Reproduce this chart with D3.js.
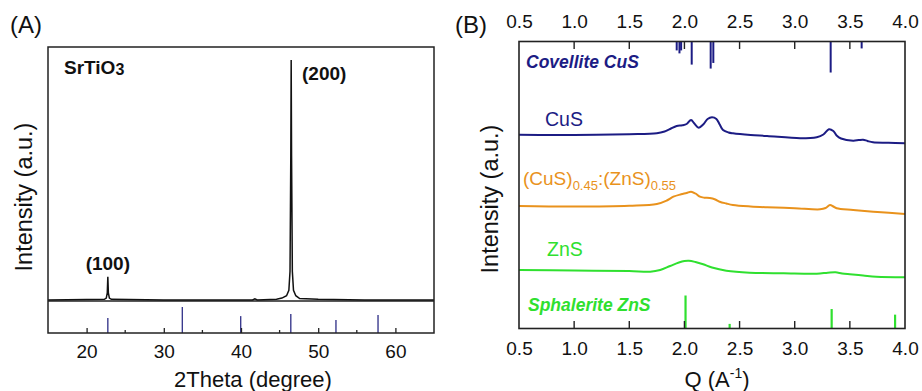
<!DOCTYPE html>
<html><head><meta charset="utf-8">
<script src="https://cdn.jsdelivr.net/npm/d3@7"></script>
<style>body{margin:0;background:#fff}svg{display:block;font-family:"Liberation Sans",Arial,sans-serif}</style>
</head><body><svg id="c" width="922" height="391"></svg>
<script>
// ---------- Panel A data ----------
const aTicks = [20, 30, 40, 50, 60];
const aMinor = [25, 35, 45, 55];
const srtio3X = [15, 20, 22.3, 22.55, 22.68, 22.75, 22.82, 22.95, 23.2, 30, 41.5, 41.8, 42.1, 44.6, 45.3, 45.9, 46.2, 46.35, 46.45, 46.5, 46.55, 46.65, 46.8, 47.1, 47.6, 50, 56, 60, 65];
const srtio3Y = [0, 0.2, 0.3, 0.8, 3, 9.7, 3, 0.8, 0.3, 0, 0, 0.5, 0, 0.3, 0.8, 1.8, 4, 12, 60, 100, 60, 12, 4, 1.8, 0.6, 0.3, 0, 0, 0];
const refAX = [22.75, 32.4, 39.96, 46.45, 52.3, 57.75];
const refAI = [58, 100, 65, 73, 50, 69];

// ---------- Panel B data ----------
const bTicks = [0.5, 1.0, 1.5, 2.0, 2.5, 3.0, 3.5, 4.0];
const cusQ = [0.5, 0.8, 1.2, 1.5, 1.75, 1.82, 1.87, 1.93, 1.98, 2.02, 2.06, 2.09, 2.13, 2.17, 2.21, 2.25, 2.29, 2.32, 2.35, 2.40, 2.44, 2.6, 2.75, 3.05, 3.2, 3.26, 3.31, 3.35, 3.38, 3.42, 3.53, 3.58, 3.62, 3.66, 3.71, 3.85, 4.0];
const cusI = [193.8, 193.5, 193.8, 194.3, 195.2, 197, 199.5, 202.5, 203.2, 204.5, 208.5, 205, 200.8, 204, 209.5, 211.2, 209.5, 204, 198.5, 196, 195.2, 193.5, 192.5, 190.2, 191.3, 194, 199.2, 197.5, 193, 190, 187.8, 188.4, 188.8, 187.5, 186.2, 185.8, 185.2];
const mixQ = [0.5, 1.0, 1.5, 1.75, 1.84, 1.90, 1.97, 2.02, 2.06, 2.10, 2.14, 2.18, 2.23, 2.28, 2.32, 2.38, 2.44, 2.6, 2.75, 3.0, 3.23, 3.28, 3.32, 3.35, 3.38, 3.53, 3.75, 4.0];
const mixI = [122.5, 122, 122.8, 124.5, 128, 131.8, 134.2, 135.5, 136.8, 135, 131.8, 130.8, 130.5, 129, 126.8, 125, 123.5, 122, 121.2, 120.3, 119.2, 120.5, 123.5, 122, 120.2, 118.5, 116.5, 114.5];
const znsQ = [0.5, 1.0, 1.5, 1.69, 1.78, 1.87, 1.95, 2.0, 2.04, 2.1, 2.17, 2.25, 2.38, 2.59, 2.9, 3.20, 3.3, 3.37, 3.43, 3.50, 3.62, 3.74, 4.0];
const znsI = [58.5, 58, 57.5, 56.8, 58.5, 62.5, 66, 67.5, 67.8, 66.5, 64.2, 61, 57.8, 55.8, 55.2, 54.8, 55.8, 56.2, 55, 54.2, 53, 51.8, 51.2];
const covQ = [1.93, 1.955, 1.97, 2.066, 2.238, 2.262, 3.326, 3.607];
const covI = [27, 36, 27, 70, 82, 65, 94, 21];
const sphQ = [2.01, 2.41, 3.335, 3.91];
const sphI = [100, 14, 59, 42];

const NAVY = "#1c1c84", ORANGE = "#e9921c", GREEN = "#2fe02f", REFA = "#3b3b8e";

const svg = d3.select("#c");

// ================= Panel A =================
const xA = d3.scaleLinear().domain([15, 65]).range([48, 434]);
const yA = d3.scaleLinear().domain([0, 100]).range([300, 60]);
const rA = d3.scaleLinear().domain([0, 100]).range([333, 307]);
const gA = svg.append("g");

gA.append("line").attr("x1", xA(15)).attr("x2", xA(65)).attr("y1", 301).attr("y2", 301)
  .attr("stroke", "#222").attr("stroke-width", 1.3);

gA.selectAll("line.ref").data(refAX).enter().append("line")
  .attr("x1", d => xA(d)).attr("x2", d => xA(d))
  .attr("y1", rA(0)).attr("y2", (d, i) => rA(refAI[i]))
  .attr("stroke", REFA).attr("stroke-width", 1.4);

const lineA = d3.line().x(d => xA(d[0])).y(d => yA(d[1]));
gA.append("path").datum(srtio3X.map((x, i) => [x, srtio3Y[i]]))
  .attr("d", lineA).attr("fill", "none").attr("stroke", "#111").attr("stroke-width", 1.5);

// ticks
const axA = d3.axisBottom(xA).tickValues(aTicks).tickSize(-5).tickFormat(d3.format("d")).tickPadding(12);
const gax = gA.append("g").attr("transform", "translate(0,333)").call(axA);
gax.select(".domain").remove();
gax.selectAll("line").attr("stroke", "#222").attr("stroke-width", 1.3);
gax.selectAll("text").attr("font-size", 19).attr("fill", "#111").attr("dy", "0.71em");
gA.append("g").selectAll("line").data(aMinor).enter().append("line")
  .attr("x1", d => xA(d)).attr("x2", d => xA(d)).attr("y1", 333).attr("y2", 330)
  .attr("stroke", "#222").attr("stroke-width", 1.3);

gA.append("rect").attr("x", 48).attr("y", 47).attr("width", 386).attr("height", 286)
  .attr("fill", "none").attr("stroke", "#222").attr("stroke-width", 1.5);

gA.append("text").attr("x", 253).attr("y", 387).attr("text-anchor", "middle")
  .attr("font-size", 22).attr("fill", "#111").text("2Theta (degree)");
gA.append("text").attr("transform", "translate(32,197) rotate(-90)").attr("text-anchor", "middle")
  .attr("font-size", 23.5).attr("fill", "#111").text("Intensity (a.u.)");
gA.append("text").attr("x", 10).attr("y", 33).attr("font-size", 24).attr("fill", "#111").text("(A)");
const st = gA.append("text").attr("x", 64).attr("y", 74).attr("font-size", 19).attr("font-weight", "bold").attr("fill", "#111");
st.append("tspan").text("SrTiO");
st.append("tspan").attr("font-size", 16).attr("dy", 1).text("3");
gA.append("text").attr("x", 302).attr("y", 80).attr("font-size", 19).attr("font-weight", "bold").attr("fill", "#111").text("(200)");
gA.append("text").attr("x", xA(22.75)).attr("y", 270).attr("text-anchor", "middle").attr("font-size", 19).attr("font-weight", "bold").attr("fill", "#111").text("(100)");

// ================= Panel B =================
const xB = d3.scaleLinear().domain([0.5, 4.0]).range([519, 905]);
const yB = d3.scaleLinear().domain([0, 287]).range([328.5, 41.5]);
const sB = d3.scaleLinear().domain([0, 100]).range([0, 33]);
const gB = svg.append("g");

// sticks
gB.selectAll("line.cov").data(covQ).enter().append("line")
  .attr("x1", d => xB(d)).attr("x2", d => xB(d))
  .attr("y1", yB(287)).attr("y2", (d, i) => yB(287) + sB(covI[i]))
  .attr("stroke", NAVY).attr("stroke-width", 2);
gB.selectAll("line.sph").data(sphQ).enter().append("line")
  .attr("x1", d => xB(d)).attr("x2", d => xB(d))
  .attr("y1", yB(0)).attr("y2", (d, i) => yB(0) - sB(sphI[i]))
  .attr("stroke", GREEN).attr("stroke-width", 2.2);

const lineB = d3.line().x(d => xB(d[0])).y(d => yB(d[1])).curve(d3.curveCatmullRom.alpha(0.5));
[[cusQ, cusI, NAVY], [mixQ, mixI, ORANGE], [znsQ, znsI, GREEN]].forEach(([q, I, c]) => {
  gB.append("path").datum(q.map((x, i) => [x, I[i]]))
    .attr("d", lineB).attr("fill", "none").attr("stroke", c).attr("stroke-width", 2);
});

// axes
const inner = bTicks.filter(d => d > 0.5 && d < 4.0);
const axBb = gB.append("g").attr("transform", "translate(0,328.5)")
  .call(d3.axisBottom(xB).tickValues(bTicks).tickSize(0).tickPadding(13).tickFormat(d3.format(".1f")));
axBb.select(".domain").remove();
axBb.selectAll("text").attr("font-size", 19).attr("fill", "#111").attr("dy", "0.71em");
const axBt = gB.append("g").attr("transform", "translate(0,41.5)")
  .call(d3.axisTop(xB).tickValues(bTicks).tickSize(0).tickPadding(14).tickFormat(d3.format(".1f")));
axBt.select(".domain").remove();
axBt.selectAll("text").attr("font-size", 19).attr("fill", "#111");
gB.append("g").selectAll("line").data(inner).enter().append("line")
  .attr("x1", d => xB(d)).attr("x2", d => xB(d)).attr("y1", 328.5).attr("y2", 321)
  .attr("stroke", "#222").attr("stroke-width", 1.4);
gB.append("g").selectAll("line").data(inner).enter().append("line")
  .attr("x1", d => xB(d)).attr("x2", d => xB(d)).attr("y1", 41.5).attr("y2", 49)
  .attr("stroke", "#222").attr("stroke-width", 1.4);

gB.append("rect").attr("x", 519).attr("y", 41.5).attr("width", 386).attr("height", 287)
  .attr("fill", "none").attr("stroke", "#222").attr("stroke-width", 1.6);

// labels
gB.append("text").attr("x", 455).attr("y", 33).attr("font-size", 24).attr("fill", "#111").text("(B)");
const qt = gB.append("text").attr("x", 717).attr("y", 387).attr("text-anchor", "middle").attr("font-size", 22).attr("fill", "#111");
qt.append("tspan").text("Q (A");
qt.append("tspan").attr("font-size", 14).attr("dy", -9).text("-1");
qt.append("tspan").attr("dy", 9).text(")");
gB.append("text").attr("transform", "translate(498,199) rotate(-90)").attr("text-anchor", "middle")
  .attr("font-size", 23.5).attr("fill", "#111").text("Intensity (a.u.)");

gB.append("text").attr("x", 526).attr("y", 68).attr("font-size", 17.5).attr("font-weight", "bold").attr("font-style", "italic").attr("fill", NAVY).text("Covellite CuS");
gB.append("text").attr("x", 528).attr("y", 311).attr("font-size", 17.5).attr("font-weight", "bold").attr("font-style", "italic").attr("fill", GREEN).text("Sphalerite ZnS");
gB.append("text").attr("x", 545).attr("y", 126).attr("font-size", 19.5).attr("fill", NAVY).text("CuS");
gB.append("text").attr("x", 547).attr("y", 256).attr("font-size", 19.5).attr("fill", GREEN).text("ZnS");
const mt = gB.append("text").attr("x", 523).attr("y", 185).attr("font-size", 19).attr("fill", ORANGE);
mt.append("tspan").text("(CuS)");
mt.append("tspan").attr("font-size", 13).attr("dy", 5).text("0.45");
mt.append("tspan").attr("dy", -5).text(":(ZnS)");
mt.append("tspan").attr("font-size", 13).attr("dy", 5).text("0.55");
</script></body></html>
